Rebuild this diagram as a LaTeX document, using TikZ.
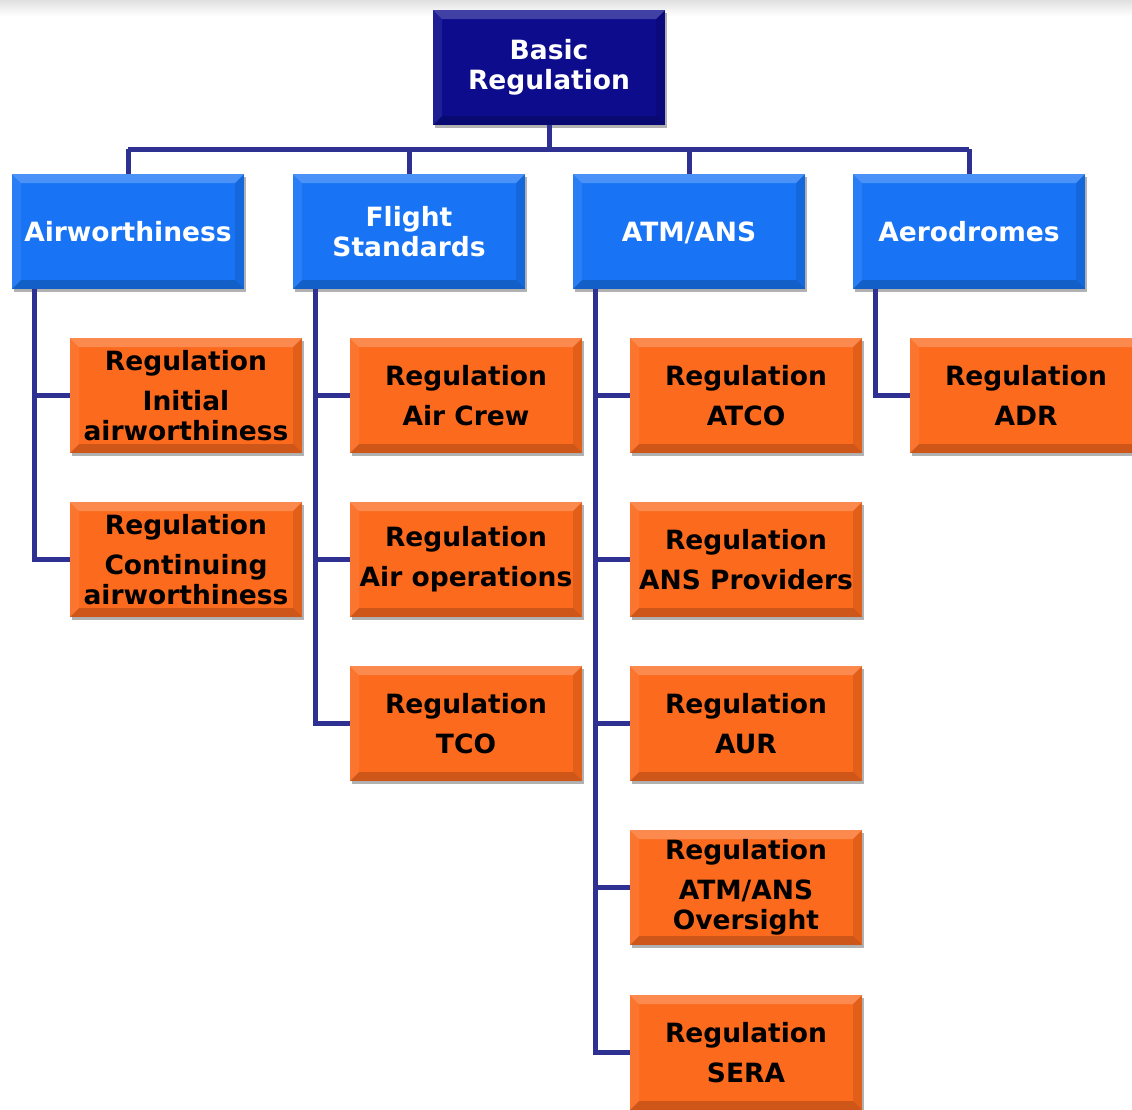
\documentclass[tikz,border=0pt]{standalone}
\usepackage{fontspec}
\setmainfont{DejaVu Sans}
\usetikzlibrary{shadows}
\definecolor{navy}{RGB}{12,12,140}
\definecolor{skyb}{RGB}{24,116,245}
\definecolor{orng}{RGB}{252,106,30}
\definecolor{linec}{RGB}{46,49,146}
\tikzset{
  bevel/.style={path picture={
    \fill[white,opacity=0.22] (path picture bounding box.north west) -- (path picture bounding box.north east) -- ([xshift=-9pt,yshift=-9pt]path picture bounding box.north east) -- ([xshift=9pt,yshift=-9pt]path picture bounding box.north west) -- cycle;
    \fill[black,opacity=0.18] (path picture bounding box.south west) -- (path picture bounding box.south east) -- ([xshift=-9pt,yshift=9pt]path picture bounding box.south east) -- ([xshift=9pt,yshift=9pt]path picture bounding box.south west) -- cycle;
    \fill[white,opacity=0.08] (path picture bounding box.north west) -- (path picture bounding box.south west) -- ([xshift=9pt,yshift=9pt]path picture bounding box.south west) -- ([xshift=9pt,yshift=-9pt]path picture bounding box.north west) -- cycle;
    \fill[black,opacity=0.10] (path picture bounding box.north east) -- (path picture bounding box.south east) -- ([xshift=-9pt,yshift=9pt]path picture bounding box.south east) -- ([xshift=-9pt,yshift=-9pt]path picture bounding box.north east) -- cycle;
  }},
  box/.style={rectangle, minimum width=232pt, minimum height=115pt, inner sep=0pt, outer sep=0pt,
    align=center, font=\bfseries\fontsize{26.5}{30}\selectfont, bevel,
    drop shadow={shadow xshift=2pt, shadow yshift=-3pt, opacity=0.3, fill=black}},
  topbox/.style={box, fill=navy, text=white},
  catbox/.style={box, fill=skyb, text=white},
  regbox/.style={box, fill=orng, text=black},
  conn/.style={draw=linec, line width=5pt, line join=miter}
}
\begin{document}
\begin{tikzpicture}[x=1pt,y=-1pt]
\useasboundingbox (0,0) rectangle (1132,1109);
\clip (0,0) rectangle (1132,1109);
\shade[top color=black!12, bottom color=white] (0,0) rectangle (1132,16);

\coordinate (bus) at (548,149);

\node[topbox] (basic) at (549,67.5) {Basic\\Regulation};

\node[catbox] (aw) at (128,231.5) {Airworthiness};
\node[catbox] (fs) at (409,231.5) {Flight\\Standards};
\node[catbox] (atm) at (689,231.5) {ATM\smash{/}ANS};
\node[catbox] (adr) at (969,231.5) {Aerodromes};

% connectors from top
\draw[conn] (basic.south) -- (basic.south |- bus);
\draw[conn] (aw.north |- bus) -- (adr.north |- bus);
\draw[conn] (aw.north |- bus) -- (aw.north);
\draw[conn] (fs.north |- bus) -- (fs.north);
\draw[conn] (atm.north |- bus) -- (atm.north);
\draw[conn] (adr.north |- bus) -- (adr.north);

% regulation boxes
\node[regbox] (ia) at (186,395.5) {Regulation\\[10pt]Initial\\airworthiness};
\node[regbox] (ca) at (186,559.5) {Regulation\\[10pt]Continuing\\airworthiness};

\node[regbox] (ac) at (466,395.5) {Regulation\\[10pt]Air Crew};
\node[regbox] (ao) at (466,559.5) {Regulation\\[10pt]Air operations};
\node[regbox] (tco) at (466,723.5) {Regulation\\[10pt]TCO};

\node[regbox] (atco) at (746,395.5) {Regulation\\[10pt]ATCO};
\node[regbox] (ansp) at (746,559.5) {Regulation\\[10pt]ANS Providers};
\node[regbox] (aur) at (746,723.5) {Regulation\\[10pt]AUR};
\node[regbox] (ovs) at (746,887.5) {Regulation\\[10pt]ATM/ANS\\Oversight};
\node[regbox] (sera) at (746,1052.5) {Regulation\\[10pt]SERA};

\node[regbox] (adrr) at (1026,395.5) {Regulation\\[10pt]ADR};

% spines
\draw[conn] ([xshift=22.5pt]aw.south west) |- (ia.west);
\draw[conn] ([xshift=22.5pt]aw.south west) |- (ca.west);
\draw[conn] ([xshift=22.5pt]fs.south west) |- (ac.west);
\draw[conn] ([xshift=22.5pt]fs.south west) |- (ao.west);
\draw[conn] ([xshift=22.5pt]fs.south west) |- (tco.west);
\draw[conn] ([xshift=22.5pt]atm.south west) |- (atco.west);
\draw[conn] ([xshift=22.5pt]atm.south west) |- (ansp.west);
\draw[conn] ([xshift=22.5pt]atm.south west) |- (aur.west);
\draw[conn] ([xshift=22.5pt]atm.south west) |- (ovs.west);
\draw[conn] ([xshift=22.5pt]atm.south west) |- (sera.west);
\draw[conn] ([xshift=22.5pt]adr.south west) |- (adrr.west);
\end{tikzpicture}
\end{document}
